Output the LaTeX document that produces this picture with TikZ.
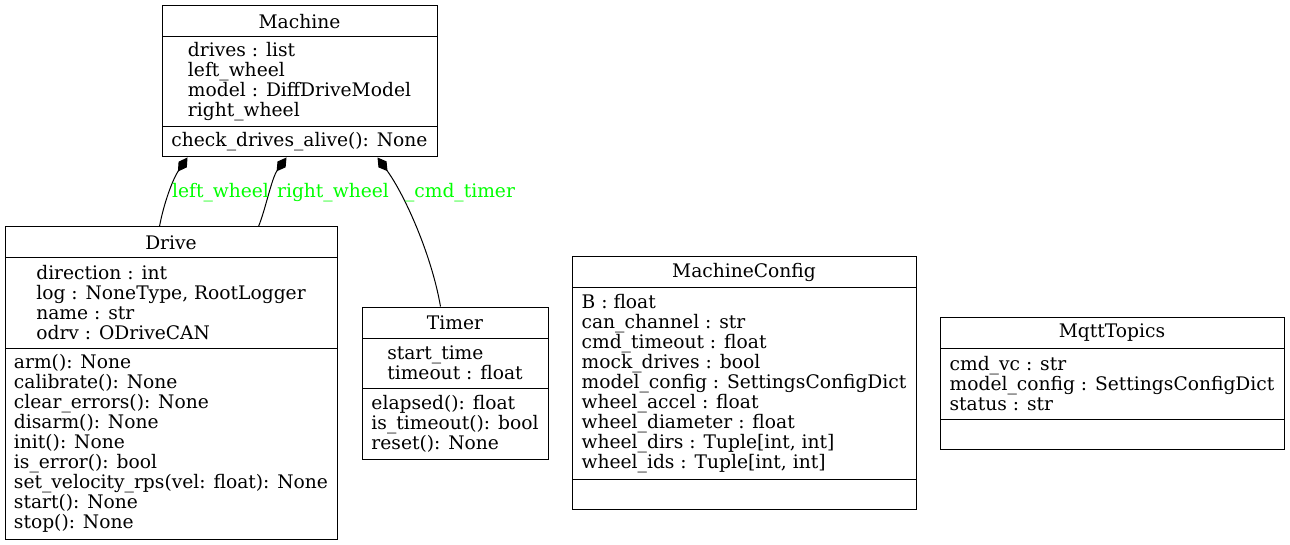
\documentclass[tikz,border=0pt]{standalone}
\usepackage{fontspec}
\setmainfont{DejaVu Serif}
\usetikzlibrary{arrows.meta}
\definecolor{lblgreen}{RGB}{0,255,0}
\tikzset{
  classbox/.style={draw=black, line width=1pt, rectangle, inner sep=0pt},
  ctext/.style={inner sep=0pt, align=left, font=\fontsize{18.67}{20}\selectfont},
  ttext/.style={inner sep=0pt, align=center, font=\fontsize{18.67}{20}\selectfont},
  sepline/.style={line width=1pt},
  comp/.style={line width=1pt, -{Diamond[length=17pt,width=10pt]}},
  elabel/.style={inner sep=0pt, anchor=base, text=lblgreen, font=\fontsize{18.67}{20}\selectfont}
}
\begin{document}
\begin{tikzpicture}[x=1pt,y=-1pt]
\useasboundingbox (0,0) rectangle (1290,545);

% Machine
\node[classbox, minimum width=275pt, minimum height=151pt] (machine) at (299.5,81.5) {};
\draw[sepline] (162,37) -- (437,37);
\draw[sepline] (162,127) -- (437,127);
\node[ttext] (machineT) at (299.5,21.5) {Machine};
\node[ctext] (machineA) at (299.5,82) {drives : list\\left\_wheel\\model : DiffDriveModel\\right\_wheel};
\node[ctext] (machineM) at (299.5,142) {check\_drives\_alive(): None};

% Drive
\node[classbox, minimum width=332pt, minimum height=312pt] (drive) at (171,383) {};
\draw[sepline] (5,258) -- (337,258);
\draw[sepline] (5,348) -- (337,348);
\node[ttext] (driveT) at (171,242.5) {Drive};
\node[ctext] (driveA) at (171,303) {direction : int\\log : NoneType, RootLogger\\name : str\\odrv : ODriveCAN};
\node[ctext] (driveM) at (171,443.5) {arm(): None\\calibrate(): None\\clear\_errors(): None\\disarm(): None\\init(): None\\is\_error(): bool\\set\_velocity\_rps(vel: float): None\\start(): None\\stop(): None};

% Timer
\node[classbox, minimum width=186pt, minimum height=152pt] (timer) at (455,383) {};
\draw[sepline] (362,338) -- (548,338);
\draw[sepline] (362,388) -- (548,388);
\node[ttext] (timerT) at (455,322.5) {Timer};
\node[ctext] (timerA) at (455,363) {start\_time\\timeout : float};
\node[ctext] (timerM) at (455,423.5) {elapsed(): float\\is\_timeout(): bool\\reset(): None};

% MachineConfig
\node[classbox, minimum width=344pt, minimum height=252pt] (mconf) at (744,383) {};
\draw[sepline] (572,288) -- (916,288);
\draw[sepline] (572,479) -- (916,479);
\node[ttext] (mconfT) at (744,272.5) {MachineConfig};
\node[ctext] (mconfA) at (744,383.5) {B : float\\can\_channel : str\\cmd\_timeout : float\\mock\_drives : bool\\model\_config : SettingsConfigDict\\wheel\_accel : float\\wheel\_diameter : float\\wheel\_dirs : Tuple[int, int]\\wheel\_ids : Tuple[int, int]};

% MqttTopics
\node[classbox, minimum width=344pt, minimum height=132pt] (mqtt) at (1112,383) {};
\draw[sepline] (940,348) -- (1284,348);
\draw[sepline] (940,419) -- (1284,419);
\node[ttext] (mqttT) at (1112,332.5) {MqttTopics};
\node[ctext] (mqttA) at (1112,383.5) {cmd\_vc : str\\model\_config : SettingsConfigDict\\status : str};

% composition connectors
\path (drive.north west) ++(155,0) coordinate (lw0);
\path (machine.south west) ++(26,0) coordinate (lw1);
\path (drive.north west) ++(254,0) coordinate (rw0);
\path (machine.south west) ++(125,0) coordinate (rw1);
\path (timer.north west) ++(79,0) coordinate (ct0);
\path (machine.south west) ++(216,0) coordinate (ct1);

\draw[comp] (lw0) .. controls +(4,-22) and +(-15,22) .. (lw1);
\draw[comp] (rw0) .. controls +(7,-17) and +(-15,21) .. (rw1);
\draw[comp] (ct0) .. controls +(-9,-52) and +(27,37) .. (ct1);

\node[elabel] (lwL) at (220.5,198) {left\_wheel};
\node[elabel] (rwL) at (333,198) {right\_wheel};
\node[elabel] (ctL) at (460,198) {\_cmd\_timer};
\end{tikzpicture}
\end{document}
